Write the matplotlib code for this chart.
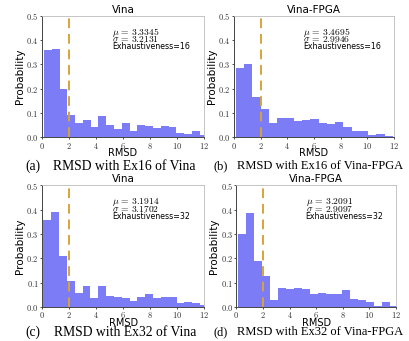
import matplotlib
matplotlib.use('Agg')
import matplotlib.pyplot as plt
from matplotlib.ticker import FuncFormatter
import numpy as np

plt.rcParams['mathtext.fontset'] = 'cm'

# histogram heights (probability per bin)
vina_ex16 = [0.359, 0.362, 0.196, 0.089, 0.058, 0.071, 0.041, 0.088, 0.051, 0.032,
             0.060, 0.025, 0.048, 0.044, 0.037, 0.047, 0.040, 0.018, 0.012, 0.025, 0.008]
fpga_ex16 = [0.285, 0.300, 0.164, 0.116, 0.058, 0.079, 0.078, 0.068, 0.070, 0.075,
             0.059, 0.053, 0.064, 0.041, 0.025, 0.026, 0.008, 0.014, 0.003]
vina_ex32 = [0.356, 0.388, 0.211, 0.107, 0.058, 0.084, 0.037, 0.085, 0.044, 0.040,
             0.038, 0.025, 0.041, 0.052, 0.038, 0.041, 0.041, 0.014, 0.019, 0.014, 0.007]
fpga_ex32 = [0.300, 0.384, 0.188, 0.126, 0.030, 0.079, 0.073, 0.078, 0.075, 0.051,
             0.058, 0.055, 0.051, 0.068, 0.034, 0.027, 0.019, 0.004, 0.019, 0.003]

series = [vina_ex16, fpga_ex16, vina_ex32, fpga_ex32]
bin_start = [0.17, 0.15, 0.10, 0.15]
bin_width = [0.575, 0.62, 0.58, 0.60]
titles = ['Vina', 'Vina-FPGA', 'Vina', 'Vina-FPGA']
mus = ['3.3345', '3.4695', '3.1914', '3.2091']
sigmas = ['3.2131', '2.9946', '3.1702', '2.9097']
exh = [16, 16, 32, 32]
cap_tags = ['(a)', '(b)', '(c)', '(d)']
cap_texts = ['RMSD with Ex16 of Vina', 'RMSD with Ex16 of Vina-FPGA',
             'RMSD with Ex32 of Vina', 'RMSD with Ex32 of Vina-FPGA']
threshold = 2.0

# axes boxes in figure fractions [left, bottom, width, height]
boxes = [[0.102, 0.598, 0.397, 0.356],
         [0.572, 0.598, 0.391, 0.356],
         [0.103, 0.100, 0.396, 0.357],
         [0.578, 0.100, 0.390, 0.357]]
# caption placement: tag x, text x, y (figure fractions), font size
cap_pos = [(0.061, 0.129, 0.513, 9.8),
           (0.523, 0.579, 0.513, 9.0),
           (0.061, 0.132, 0.026, 9.8),
           (0.523, 0.579, 0.026, 9.0)]

fig = plt.figure(figsize=(4.09, 3.41), dpi=100)
tick_fmt_y = FuncFormatter(lambda v, p: f'${v:.1f}$')
tick_fmt_x = FuncFormatter(lambda v, p: f'${v:.0f}$')

for i in range(4):
    ax = fig.add_axes(boxes[i])
    h = np.array(series[i])
    edges = bin_start[i] + bin_width[i] * np.arange(len(h))
    ax.bar(edges, h, width=bin_width[i], align='edge', color='#7c7cf6', linewidth=0)
    ax.axvline(threshold, color='#d6a53a', linestyle=(0, (5, 3)), linewidth=1.4)
    ax.set_xlim(0, 12)
    ax.set_ylim(0, 0.5)
    ax.set_xticks(range(0, 13, 2))
    ax.set_yticks(np.arange(0, 0.51, 0.1))
    ax.xaxis.set_major_formatter(tick_fmt_x)
    ax.yaxis.set_major_formatter(tick_fmt_y)
    ax.tick_params(labelsize=6, length=1.5, width=0.6, pad=1, colors='#333333')
    for s in ['left', 'bottom']:
        ax.spines[s].set_color('#444444')
        ax.spines[s].set_linewidth(0.7)
    for s in ['top', 'right']:
        ax.spines[s].set_color('#bbbbbb')
        ax.spines[s].set_linewidth(0.6)
    ax.set_title(titles[i], fontsize=7.5, pad=2)
    ax.set_xlabel('RMSD', fontsize=7, labelpad=-2)
    ax.set_ylabel('Probability', fontsize=7.5, labelpad=1)
    ax.text(5.2, 0.422, rf'$\mu\,=\,{mus[i]}$', fontsize=6.9, va='baseline')
    ax.text(5.2, 0.391, rf'$\sigma\,=\,{sigmas[i]}$', fontsize=6.9, va='baseline')
    ax.text(5.2, 0.362, f'Exhaustiveness={exh[i]}', fontsize=5.7, va='baseline')
    tx, bx, cy, fs = cap_pos[i]
    fig.text(tx, cy, cap_tags[i], family='Liberation Serif', fontsize=fs, va='center')
    fig.text(bx, cy, cap_texts[i], family='Liberation Serif', fontsize=fs, va='center')

fig.savefig('out.png', dpi=100)
